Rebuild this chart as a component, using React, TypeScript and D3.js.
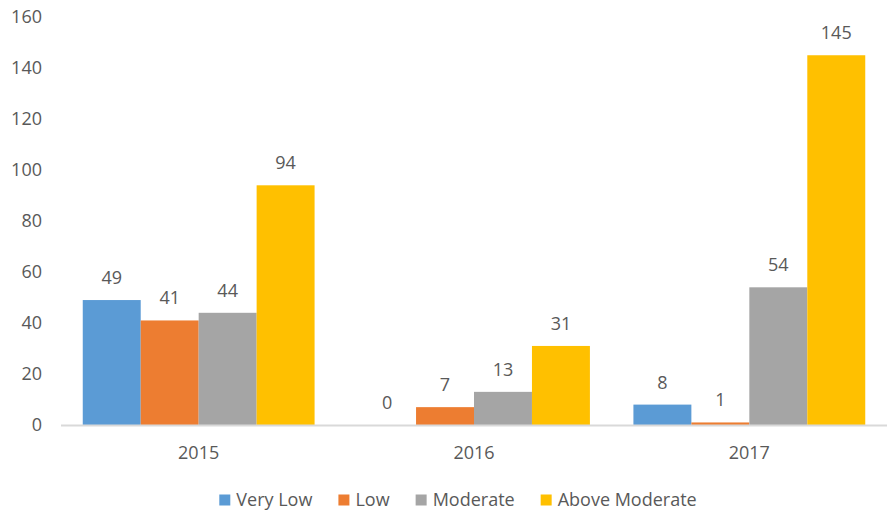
import React, { useEffect, useRef } from "react";
import * as d3 from "d3";

const years = ["2015", "2016", "2017"];
const seriesNames = ["Very Low", "Low", "Moderate", "Above Moderate"];
const veryLow = [49, 0, 8];
const low = [41, 7, 1];
const moderate = [44, 13, 54];
const aboveModerate = [94, 31, 145];
const yTicks = [0, 20, 40, 60, 80, 100, 120, 140, 160];

const seriesValues = [veryLow, low, moderate, aboveModerate];
const colors = ["#5B9BD5", "#ED7D31", "#A5A5A5", "#FFC000"];

const width = 895;
const height = 512;
const margin = { top: 17, right: 8, bottom: 87, left: 61 };
const font = "'Open Sans', sans-serif";
const textColor = "#595959";
const legendCenter = 458;

const App: React.FC = () => {
  const ref = useRef<SVGSVGElement | null>(null);

  useEffect(() => {
    document.body.style.margin = "0";
    if (!ref.current) return;
    const svg = d3.select(ref.current);
    svg.selectAll("*").remove();

    const innerW = width - margin.left - margin.right;
    const innerH = height - margin.top - margin.bottom;

    const x0 = d3.scaleBand<string>().domain(years).range([0, innerW]).paddingInner(0.158).paddingOuter(0.079);
    const x1 = d3.scaleBand<string>().domain(seriesNames).range([0, x0.bandwidth()]);
    const y = d3.scaleLinear().domain([0, 160]).range([innerH, 0]);

    const g = svg.append("g").attr("transform", `translate(${margin.left},${margin.top})`);

    // y tick labels
    g.selectAll(".ytick")
      .data(yTicks)
      .enter()
      .append("text")
      .attr("x", -19)
      .attr("y", (d) => y(d))
      .attr("dy", "0.35em")
      .attr("text-anchor", "end")
      .attr("font-family", font)
      .attr("font-size", 18)
      .attr("fill", textColor)
      .text((d) => d);

    // bars
    const data = years.flatMap((yr, i) =>
      seriesNames.map((s, j) => ({ yr, s, v: seriesValues[j][i], c: colors[j] }))
    );

    g.selectAll(".bar")
      .data(data)
      .enter()
      .append("rect")
      .attr("x", (d) => (x0(d.yr) || 0) + (x1(d.s) || 0))
      .attr("y", (d) => y(d.v))
      .attr("width", x1.bandwidth())
      .attr("height", (d) => innerH - y(d.v))
      .attr("fill", (d) => d.c);

    // data labels
    g.selectAll(".lbl")
      .data(data)
      .enter()
      .append("text")
      .attr("x", (d) => (x0(d.yr) || 0) + (x1(d.s) || 0) + x1.bandwidth() / 2)
      .attr("y", (d) => y(d.v) - 16)
      .attr("text-anchor", "middle")
      .attr("font-family", font)
      .attr("font-size", 18)
      .attr("fill", textColor)
      .text((d) => d.v);

    // baseline
    g.append("line")
      .attr("x1", 0)
      .attr("x2", innerW)
      .attr("y1", innerH + 0.5)
      .attr("y2", innerH + 0.5)
      .attr("stroke", "#D9D9D9")
      .attr("stroke-width", 2);

    // category labels
    g.selectAll(".xlbl")
      .data(years)
      .enter()
      .append("text")
      .attr("x", (d) => (x0(d) || 0) + x0.bandwidth() / 2)
      .attr("y", innerH + 28)
      .attr("dy", "0.35em")
      .attr("text-anchor", "middle")
      .attr("font-family", font)
      .attr("font-size", 18)
      .attr("fill", textColor)
      .text((d) => d);

    // legend
    const legend = svg.append("g").attr("transform", `translate(0, 500)`);
    const items = legend
      .selectAll(".item")
      .data(seriesNames)
      .enter()
      .append("g");
    items
      .append("rect")
      .attr("y", -5.5)
      .attr("width", 11)
      .attr("height", 11)
      .attr("fill", (_, i) => colors[i]);
    items
      .append("text")
      .attr("x", 17)
      .attr("dy", "0.35em")
      .attr("font-family", font)
      .attr("font-size", 18)
      .attr("fill", textColor)
      .text((d) => d);

    const gap = 26;
    const widths: number[] = [];
    items.each(function () {
      widths.push((this as SVGGElement).getBBox().width);
    });
    const total = d3.sum(widths) + gap * (widths.length - 1);
    let cx = legendCenter - total / 2;
    items.attr("transform", (_, i) => {
      const t = `translate(${cx},0)`;
      cx += widths[i] + gap;
      return t;
    });
  }, []);

  return <svg ref={ref} width={width} height={height} style={{ display: "block", background: "#fff" }} />;
};

export default App;
